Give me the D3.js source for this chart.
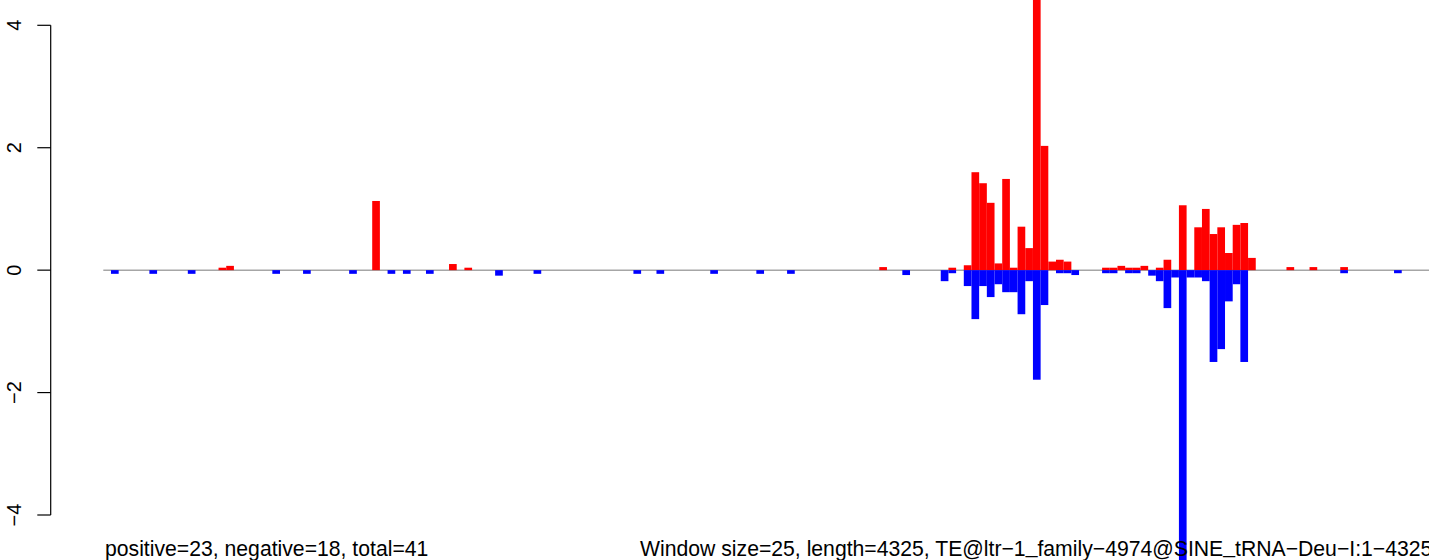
<!DOCTYPE html>
<html>
<head>
<meta charset="utf-8">
<script src="https://cdn.jsdelivr.net/npm/d3@7"></script>
<style>
  html, body { margin: 0; padding: 0; background: #ffffff; }
  svg { display: block; }
  text { font-family: "Liberation Sans", Arial, Helvetica, sans-serif; fill: #000; }
</style>
</head>
<body>
<svg id="chart" width="1429" height="560"></svg>
<script>
// ---- data (window index : value) ----
const windowSize = 25;
const seqLength = 4325;
const nWindows = 173;

const posIndex = [15, 16, 35, 45, 47, 101, 110, 112, 113, 114, 115, 116, 117, 118, 119, 120, 121, 122, 123, 124, 125,
                  130, 131, 132, 133, 134, 135, 137, 138, 140, 142, 143, 144, 145, 146, 147, 148, 149, 154, 157, 161];
const posValue = [0.04, 0.07, 1.13, 0.10, 0.04, 0.05, 0.04, 0.08, 1.60, 1.42, 1.10, 0.11, 1.49, 0.04, 0.71, 0.36, 4.8, 2.03, 0.14, 0.17, 0.14,
                  0.04, 0.04, 0.07, 0.04, 0.04, 0.07, 0.04, 0.17, 1.06, 0.70, 1.00, 0.59, 0.70, 0.28, 0.74, 0.77, 0.20, 0.05, 0.05, 0.05];

const negIndex = [1, 6, 11, 22, 26, 32, 37, 39, 42, 51, 56, 69, 72, 79, 85, 89, 104, 109, 110, 112, 113, 114, 115, 116, 117, 118, 119, 120, 121, 122,
                  124, 125, 126, 130, 131, 133, 134, 136, 137, 138, 139, 140, 141, 142, 143, 144, 145, 146, 147, 148, 161, 168];
const negValue = [-0.06, -0.06, -0.06, -0.06, -0.06, -0.06, -0.06, -0.06, -0.06, -0.09, -0.06, -0.06, -0.06, -0.06, -0.06, -0.06, -0.08, -0.18, -0.05, -0.26, -0.80, -0.26, -0.44, -0.23, -0.36, -0.36, -0.72, -0.18, -1.79, -0.57,
                  -0.05, -0.05, -0.08, -0.05, -0.05, -0.05, -0.05, -0.09, -0.18, -0.62, -0.12, -4.8, -0.12, -0.12, -0.18, -1.50, -1.29, -0.51, -0.23, -1.50, -0.05, -0.05];

const yTicks = [-4, -2, 0, 2, 4];
const leftLabel = "positive=23, negative=18, total=41";
const rightLabel = "Window size=25, length=4325, TE@ltr\u22121_family\u22124974@SINE_tRNA\u2212Deu\u2212I:1\u22124325";

// ---- layout ----
const svg = d3.select("#chart");
const W = 1429, H = 560;
svg.append("rect").attr("width", W).attr("height", H).attr("fill", "#fff");

const x = d3.scaleLinear().domain([0, nWindows]).range([103.3, 103.3 + nWindows * 7.683]);
const y = d3.scaleLinear().domain([-4, 4]).range([515.0, 25.3]);

svg.append("defs").append("clipPath").attr("id", "clip")
  .append("rect").attr("x", 0).attr("y", 0).attr("width", W).attr("height", H);

const plot = svg.append("g").attr("clip-path", "url(#clip)");

// baseline
plot.append("line")
  .attr("x1", x(0)).attr("x2", x(nWindows))
  .attr("y1", y(0)).attr("y2", y(0))
  .attr("stroke", "#a6a6a6").attr("stroke-width", 1.5);

const bw = x(1) - x(0);
const pos = posIndex.map((i, k) => ({ i, v: posValue[k] }));
const neg = negIndex.map((i, k) => ({ i, v: negValue[k] }));

plot.selectAll("rect.pos").data(pos).join("rect")
  .attr("class", "pos")
  .attr("x", d => x(d.i)).attr("width", bw)
  .attr("y", d => y(d.v)).attr("height", d => y(0) - y(d.v))
  .attr("fill", "#ff0000");

plot.selectAll("rect.neg").data(neg).join("rect")
  .attr("class", "neg")
  .attr("x", d => x(d.i)).attr("width", bw)
  .attr("y", y(0)).attr("height", d => y(d.v) - y(0))
  .attr("fill", "#0000ff");

// y axis
const axisX = 50.7;
const ax = svg.append("g");
ax.append("line").attr("x1", axisX).attr("x2", axisX)
  .attr("y1", y(-4)).attr("y2", y(4)).attr("stroke", "#000").attr("stroke-width", 1.2);
ax.selectAll("line.tick").data(yTicks).join("line")
  .attr("class", "tick")
  .attr("x1", axisX - 13.4).attr("x2", axisX)
  .attr("y1", d => y(d)).attr("y2", d => y(d))
  .attr("stroke", "#000").attr("stroke-width", 1.2);
ax.selectAll("text.tl").data(yTicks).join("text")
  .attr("class", "tl")
  .attr("transform", d => `translate(20.5,${y(d)}) rotate(-90)`)
  .attr("text-anchor", "middle")
  .style("font-size", "20px")
  .text(d => d < 0 ? "\u2212" + Math.abs(d) : String(d));

// bottom texts (underscores raised slightly, as in the reference rendering)
function addLabel(str, x0) {
  const t = svg.append("text").attr("x", x0).attr("y", 556.3).style("font-size", "21.2px");
  const parts = str.split("_");
  parts.forEach((p, k) => {
    if (k > 0) {
      t.append("tspan").attr("dy", -3.5).text("_");
      t.append("tspan").attr("dy", 3.5).text(p);
    } else {
      t.append("tspan").text(p);
    }
  });
}
addLabel(leftLabel, 105);
addLabel(rightLabel, 640);
</script>
</body>
</html>
